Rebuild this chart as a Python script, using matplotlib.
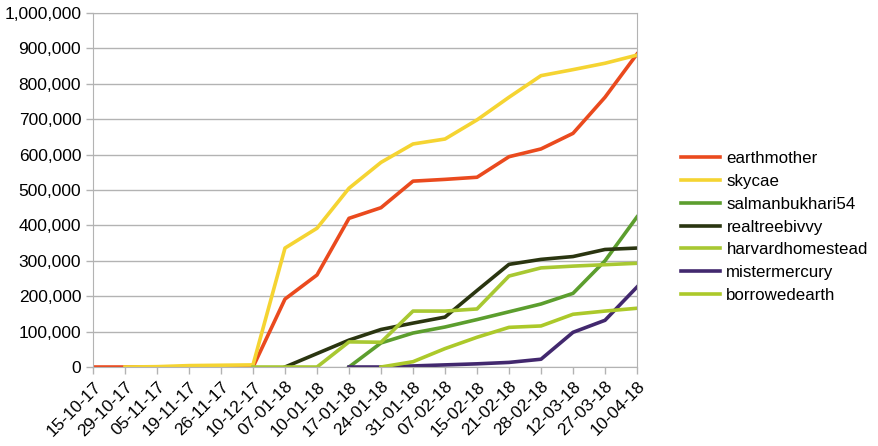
import numpy as np
import matplotlib
matplotlib.use("Agg")
import matplotlib.pyplot as plt
from matplotlib.ticker import FuncFormatter

nan = np.nan

dates = ["15-10-17", "29-10-17", "05-11-17", "19-11-17", "26-11-17", "10-12-17",
         "07-01-18", "10-01-18", "17-01-18", "24-01-18", "31-01-18", "07-02-18",
         "15-02-18", "21-02-18", "28-02-18", "12-03-18", "27-03-18", "10-04-18"]

earthmother = [0, 0, 0, 0, 0, 0, 192000, 260000, 420000, 450000, 525000, 530000,
               536000, 594000, 616000, 660000, 762000, 884000]
skycae = [nan, 0, 1000, 4000, 5000, 6000, 336000, 392000, 505000, 578000, 630000, 644000,
          698000, 762000, 823000, 840000, 858000, 881000]
salmanbukhari54 = [nan, nan, nan, nan, nan, nan, nan, nan, 0, 68000, 96000, 113000,
                   134000, 156000, 178000, 208000, 300000, 424000]
realtreebivvy = [nan, nan, nan, nan, nan, nan, 0, 38000, 76000, 106000, 124000, 141000,
                 216000, 290000, 304000, 312000, 332000, 336000]
harvardhomestead = [nan, nan, nan, nan, nan, 0, 0, 0, 71000, 70000, 158000, 158000,
                    164000, 257000, 280000, 285000, 289000, 293000]
mistermercury = [nan, nan, nan, nan, nan, nan, nan, nan, 0, 0, 3000, 6000,
                 9000, 13000, 22000, 98000, 132000, 226000]
borrowedearth = [nan, nan, nan, nan, nan, nan, nan, nan, nan, 0, 15000, 52000,
                 84000, 112000, 116000, 149000, 158000, 166000]

series = [
    ("earthmother", earthmother, "#ea4a1e"),
    ("skycae", skycae, "#f5d432"),
    ("salmanbukhari54", salmanbukhari54, "#5c9e2e"),
    ("realtreebivvy", realtreebivvy, "#2a3510"),
    ("harvardhomestead", harvardhomestead, "#a8c832"),
    ("mistermercury", mistermercury, "#42286e"),
    ("borrowedearth", borrowedearth, "#acc92a"),
]

plt.rcParams['font.family'] = ['Liberation Sans', 'DejaVu Sans']

fig = plt.figure(figsize=(8.79, 4.46), dpi=100)
ax = fig.add_axes([0.1058, 0.1771, 0.6189, 0.7938])

x = np.arange(len(dates))
for name, vals, col in series:
    ax.plot(x, vals, color=col, lw=2.6, label=name, solid_joinstyle='round')

ax.set_xlim(0, len(dates) - 1)
ax.set_ylim(0, 1000000)
ax.set_yticks(np.arange(0, 1000001, 100000))
ax.yaxis.set_major_formatter(FuncFormatter(lambda v, p: "{:,}".format(int(v))))
ax.set_xticks(x)
ax.set_xticklabels(dates, rotation=45, ha='right', va='top', rotation_mode='anchor')
ax.tick_params(labelsize=12.5, colors='#b3b3b3', labelcolor='black', length=5, width=1)
ax.grid(axis='y', color='#b3b3b3', lw=1)
ax.set_axisbelow(True)
for s in ax.spines.values():
    s.set_color('#b3b3b3')

fig.legend(loc='center left', bbox_to_anchor=(0.757, 0.491), frameon=False,
           fontsize=12.2, handlelength=2.35, labelspacing=0.46, handletextpad=0.35)

fig.savefig("out.png", dpi=100)
